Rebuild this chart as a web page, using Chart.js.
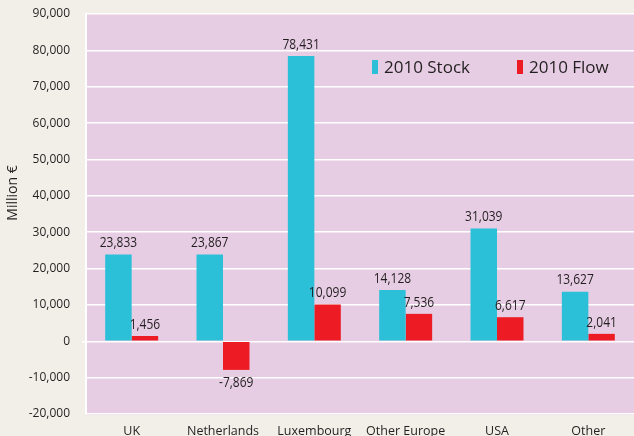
<!DOCTYPE html>
<html>
<head>
<meta charset="utf-8">
<script src="https://cdn.jsdelivr.net/npm/chart.js@4"></script>
<style>
  html, body { margin: 0; padding: 0; background: #f2efe8; }
  #wrap { width: 634px; height: 436px; position: relative; }
</style>
</head>
<body>
<div id="wrap"><canvas id="fdiChart" width="634" height="436"></canvas></div>
<script>
// Data
const countries = ['UK', 'Netherlands', 'Luxembourg', 'Other Europe', 'USA', 'Other'];
const stock2010 = [23833, 23867, 78431, 14128, 31039, 13627];
const flow2010 = [1456, -7869, 10099, 7536, 6617, 2041];
const yTicks = [-20000, -10000, 0, 10000, 20000, 30000, 40000, 50000, 60000, 70000, 80000, 90000];

const stockColor = '#2bc0d8';
const flowColor = '#ed1c24';
const textColor = '#231f20';
const baseFont = '"Open Sans", sans-serif';

const fmt = v => v.toLocaleString('en-US');

// Pink plot background
const plotBg = {
    id: 'plotBg',
    beforeDraw(chart) {
        const { ctx, chartArea: a } = chart;
        ctx.save();
        ctx.fillStyle = '#e6cde3';
        ctx.fillRect(a.left, a.top - 1, a.right - a.left, a.bottom - a.top + 2);
        ctx.restore();
    }
};

// Value labels above / below each bar, squeezed to look condensed
const valueLabels = {
    id: 'valueLabels',
    afterDatasetsDraw(chart) {
        const ctx = chart.ctx;
        const squeeze = 0.8;
        ctx.save();
        ctx.font = '15px "Open Sans", sans-serif';
        ctx.fillStyle = textColor;
        ctx.textAlign = 'center';
        chart.data.datasets.forEach((ds, i) => {
            chart.getDatasetMeta(i).data.forEach((bar, j) => {
                const v = ds.data[j];
                ctx.save();
                ctx.scale(squeeze, 1);
                if (v >= 0) {
                    ctx.textBaseline = 'bottom';
                    ctx.fillText(fmt(v), bar.x / squeeze, bar.y - 4);
                } else {
                    ctx.textBaseline = 'top';
                    ctx.fillText(fmt(v), bar.x / squeeze, bar.y + 5);
                }
                ctx.restore();
            });
        });
        ctx.restore();
    }
};

// Legend inside the plot, top right, plus the y axis title
const extras = {
    id: 'extras',
    afterDraw(chart) {
        const ctx = chart.ctx;
        const y = 67;
        ctx.save();
        ctx.font = '17px ' + baseFont;
        ctx.textBaseline = 'middle';
        ctx.textAlign = 'left';
        const spots = [372, 517];
        chart.data.datasets.forEach((ds, i) => {
            const x = spots[i];
            ctx.fillStyle = ds.backgroundColor;
            ctx.fillRect(x, y - 7, 6, 14);
            ctx.fillStyle = textColor;
            ctx.fillText(ds.label, x + 12, y + 1);
        });

        ctx.translate(13, 193);
        ctx.rotate(-Math.PI / 2);
        ctx.font = '14px ' + baseFont;
        ctx.textAlign = 'center';
        ctx.fillText('Million €', 0, 0);
        ctx.restore();
    }
};

const ctx = document.getElementById('fdiChart').getContext('2d');
new Chart(ctx, {
    type: 'bar',
    data: {
        labels: countries,
        datasets: [{
            label: '2010 Stock',
            data: stock2010,
            backgroundColor: stockColor,
            categoryPercentage: 0.58,
            barPercentage: 1.0
        }, {
            label: '2010 Flow',
            data: flow2010,
            backgroundColor: flowColor,
            categoryPercentage: 0.58,
            barPercentage: 1.0
        }]
    },
    options: {
        responsive: false,
        animation: false,
        layout: { padding: { top: 14, right: 0, left: 0, bottom: 0 } },
        plugins: {
            legend: { display: false },
            tooltip: { enabled: false }
        },
        scales: {
            x: {
                grid: { display: false, drawTicks: false },
                border: { display: false },
                ticks: {
                    color: textColor,
                    font: { family: baseFont, size: 12.5 },
                    padding: 10,
                    maxRotation: 0
                },
                afterFit(scale) {
                    scale.height = 22;
                    scale.paddingLeft = 0;
                    scale.paddingRight = 0;
                }
            },
            y: {
                min: -20000,
                max: 90000,
                afterBuildTicks(scale) {
                    scale.ticks = yTicks.map(v => ({ value: v }));
                },
                grid: {
                    color: '#ffffff',
                    lineWidth: 1.5,
                    tickLength: 4,
                    tickColor: c => (c.tick && c.tick.value === 0 ? '#ffffff' : 'rgba(0,0,0,0)')
                },
                border: { color: '#ffffff', width: 2 },
                ticks: {
                    color: textColor,
                    font: { family: baseFont, size: 12 },
                    padding: 12,
                    callback: v => fmt(v)
                },
                afterFit(scale) {
                    scale.width = 86;
                    scale.paddingTop = 0;
                    scale.paddingBottom = 0;
                }
            }
        }
    },
    plugins: [plotBg, valueLabels, extras]
});
</script>
</body>
</html>
